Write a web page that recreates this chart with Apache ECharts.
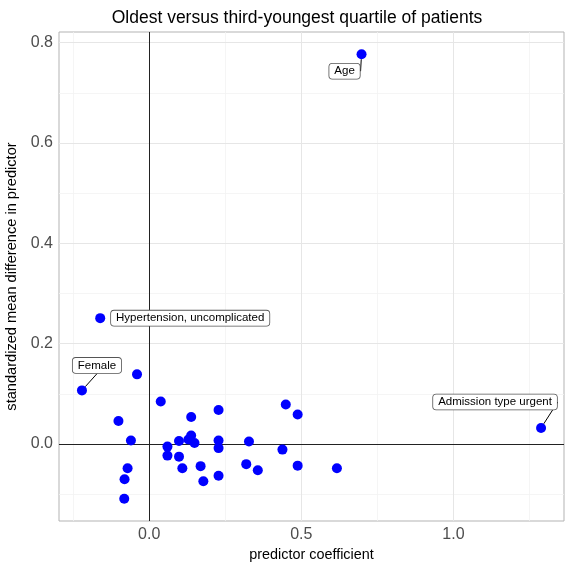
<!DOCTYPE html>
<html>
<head>
<meta charset="utf-8">
<script src="https://cdn.jsdelivr.net/npm/echarts@6/dist/echarts.min.js"></script>
<style>
html,body{margin:0;padding:0;background:#fff;}
#chart{width:567px;height:565px;}
</style>
</head>
<body>
<div id="chart"></div>
<script>
// ---- data ----
const pointNames = ['Age', 'Hypertension, uncomplicated', 'Female', 'Admission type urgent',
  '', '', '', '', '', '', '', '', '', '', '', '', '', '', '', '', '', '', '', '', '', '', '', '', '', '', '', '', '', ''];
const predictorCoefficient = [0.698, -0.161, -0.221, 1.288,
  -0.040, 0.038, -0.101, -0.060, 0.060, 0.098, 0.060, 0.098, -0.071, 0.109, -0.081, -0.082,
  0.228, 0.138, 0.138, 0.129, 0.149, 0.228, 0.228, 0.328, 0.169, 0.319, 0.357, 0.178, 0.228,
  0.449, 0.488, 0.438, 0.488, 0.617];
const smdPredictor = [0.777, 0.251, 0.107, 0.032,
  0.139, 0.085, 0.046, 0.007, -0.005, 0.006, -0.023, -0.025, -0.048, -0.048, -0.070, -0.109,
  0.068, 0.054, 0.017, 0.009, 0.002, 0.007, -0.008, 0.005, -0.044, -0.040, -0.052, -0.074, -0.063,
  0.079, 0.059, -0.011, -0.043, -0.048];
const xTicks = [0, 0.5, 1.0];
const yTicks = [0, 0.2, 0.4, 0.6, 0.8];
const xMinorGrid = [-0.25, 0.25, 0.75, 1.25];
const yMinorGrid = [-0.1, 0.1, 0.3, 0.5, 0.7];

// ---- label placement (pixel offsets, ggrepel-like) ----
const labelOffsets = {
  'Age': [-17, 17],
  'Hypertension, uncomplicated': [90, 0],
  'Female': [15, -25],
  'Admission type urgent': [-46, -26]
};
const noSegment = {'Hypertension, uncomplicated': true};

function expand(arr) {
  const mn = Math.min(...arr), mx = Math.max(...arr), r = mx - mn;
  return [mn - 0.05 * r, mx + 0.05 * r];
}
const xr = expand(predictorCoefficient);
const yr = expand(smdPredictor);

const FONT = '"Liberation Sans", Arial, sans-serif';
const points = predictorCoefficient.map((x, i) => {
  const nm = pointNames[i];
  const item = { value: [x, smdPredictor[i]], name: nm };
  if (nm) {
    item.label = { show: true };
    item.labelLine = { show: !noSegment[nm] };
  }
  return item;
});

const chart = echarts.init(document.getElementById('chart'), null, {renderer: 'canvas'});
const gridLineStyle = (c, w) => ({ color: c, width: w, type: 'solid' });
chart.setOption({
  animation: false,
  backgroundColor: '#ffffff',
  title: {
    text: 'Oldest versus third-youngest quartile of patients',
    left: 297, top: 9, padding: 0, textAlign: 'center',
    textStyle: { fontFamily: FONT, fontSize: 17.5, fontWeight: 'normal', color: '#000' }
  },
  grid: { left: 59, right: 3, top: 32, bottom: 44, containLabel: false, outerBoundsMode: 'none',
    show: true, borderColor: '#b3b3b3', borderWidth: 1, backgroundColor: '#fff' },
  xAxis: {
    type: 'value', min: xr[0], max: xr[1],
    name: 'predictor coefficient', nameLocation: 'middle', nameGap: 23,
    nameTextStyle: { fontFamily: FONT, fontSize: 14.4, color: '#000' },
    axisLine: { show: false },
    axisTick: { show: true, length: 4, lineStyle: { color: '#b3b3b3' }, customValues: xTicks },
    axisLabel: { customValues: xTicks, margin: 6, fontFamily: FONT, fontSize: 16, color: '#4d4d4d',
      formatter: v => v.toFixed(1), hideOverlap: false, showMinLabel: true, showMaxLabel: true },
    splitLine: { show: false }
  },
  yAxis: {
    type: 'value', min: yr[0], max: yr[1],
    name: 'standardized mean difference in predictor', nameLocation: 'middle', nameGap: 32, nameRotate: 90,
    nameTextStyle: { fontFamily: FONT, fontSize: 14.6, color: '#000' },
    axisLine: { show: false },
    axisTick: { show: true, length: 4, lineStyle: { color: '#b3b3b3' }, customValues: yTicks },
    axisLabel: { customValues: yTicks, margin: 6, fontFamily: FONT, fontSize: 16, color: '#4d4d4d',
      formatter: v => v.toFixed(1), hideOverlap: false },
    splitLine: { show: false }
  },
  series: [
    {
      type: 'scatter', data: [], z: 1, silent: true,
      markLine: {
        silent: true, symbol: 'none', animation: false, label: { show: false },
        data: [
          ...xMinorGrid.map(v => ({ xAxis: v, lineStyle: gridLineStyle('#f2f2f2', 0.8) })),
          ...yMinorGrid.map(v => ({ yAxis: v, lineStyle: gridLineStyle('#f2f2f2', 0.8) })),
          ...xTicks.filter(v => v !== 0).map(v => ({ xAxis: v, lineStyle: gridLineStyle('#e6e6e6', 1) })),
          ...yTicks.filter(v => v !== 0).map(v => ({ yAxis: v, lineStyle: gridLineStyle('#e6e6e6', 1) }))
        ]
      }
    },
    {
      type: 'scatter', data: [], z: 2, silent: true,
      markLine: {
        silent: true, symbol: 'none', animation: false, label: { show: false },
        lineStyle: { color: '#222', width: 1, type: 'solid' },
        data: [{ xAxis: 0 }, { yAxis: 0 }]
      }
    },
    {
      type: 'scatter', z: 5, symbol: 'circle', symbolSize: 10,
      itemStyle: { color: '#0000ff', opacity: 1 },
      data: points,
      label: {
        show: false, position: 'inside', formatter: p => p.name,
        fontFamily: FONT, fontSize: 11.5, color: '#000',
        backgroundColor: '#fff', borderColor: '#555', borderWidth: 0.8, borderRadius: 3,
        padding: [2, 5, 1, 5]
      },
      labelLine: { show: true, lineStyle: { color: '#000', width: 1 } },
      labelLayout: function (params) {
        const off = labelOffsets[pointNames[params.dataIndex]];
        if (!off) return {};
        return { dx: off[0], dy: off[1] };
      },
      emphasis: { disabled: true }
    }
  ]
});
</script>
</body>
</html>
